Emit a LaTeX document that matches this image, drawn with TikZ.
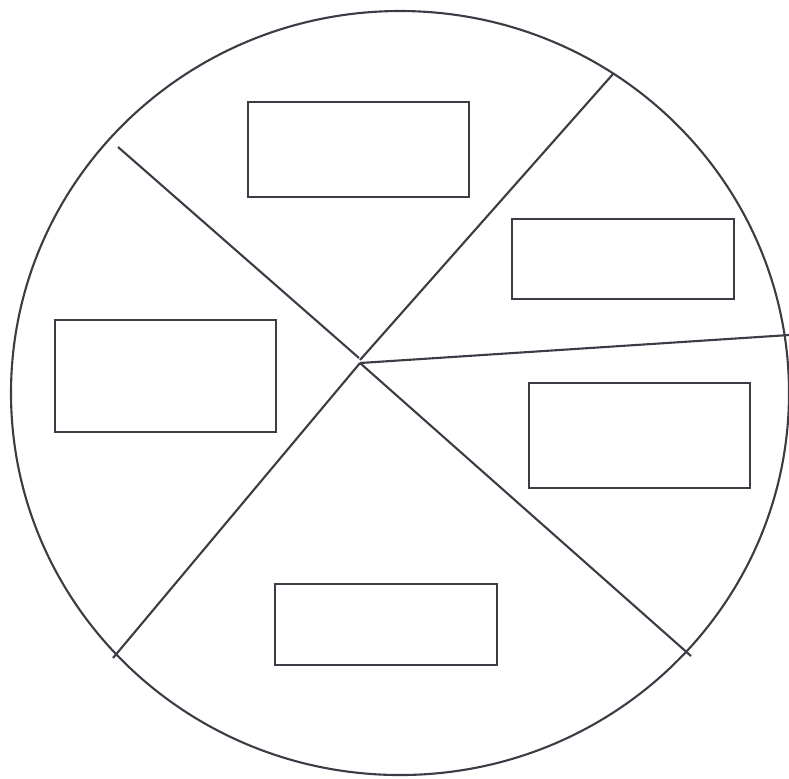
\documentclass[tikz,border=0pt]{standalone}
\usepackage{xcolor}
\definecolor{lapiz}{RGB}{60, 60, 70}

\begin{document}
\begin{tikzpicture}[x=0.01cm, y=-0.01cm, line width=0.6pt, draw=lapiz]
    \useasboundingbox (0, 0) rectangle (789, 778);

    % Circulo
    \draw[lapiz] (400, 393) ellipse [x radius=389, y radius=382];

    % Radios
    \coordinate (c) at (360, 363);
    \draw[lapiz] (359, 358) -- (118, 147);
    \draw[lapiz] (360, 360) -- (613, 74);
    \draw[lapiz] (c) -- (789, 335);
    \draw[lapiz] (c) -- (691, 656);
    \draw[lapiz] (c) -- (113, 658);

    % Recuadros
    \draw[lapiz] (248, 102) rectangle (469, 197);
    \draw[lapiz] (512, 219) rectangle (734, 299);
    \draw[lapiz] (55, 320) rectangle (276, 432);
    \draw[lapiz] (529, 383) rectangle (750, 488);
    \draw[lapiz] (275, 584) rectangle (497, 665);
\end{tikzpicture}
\end{document}
